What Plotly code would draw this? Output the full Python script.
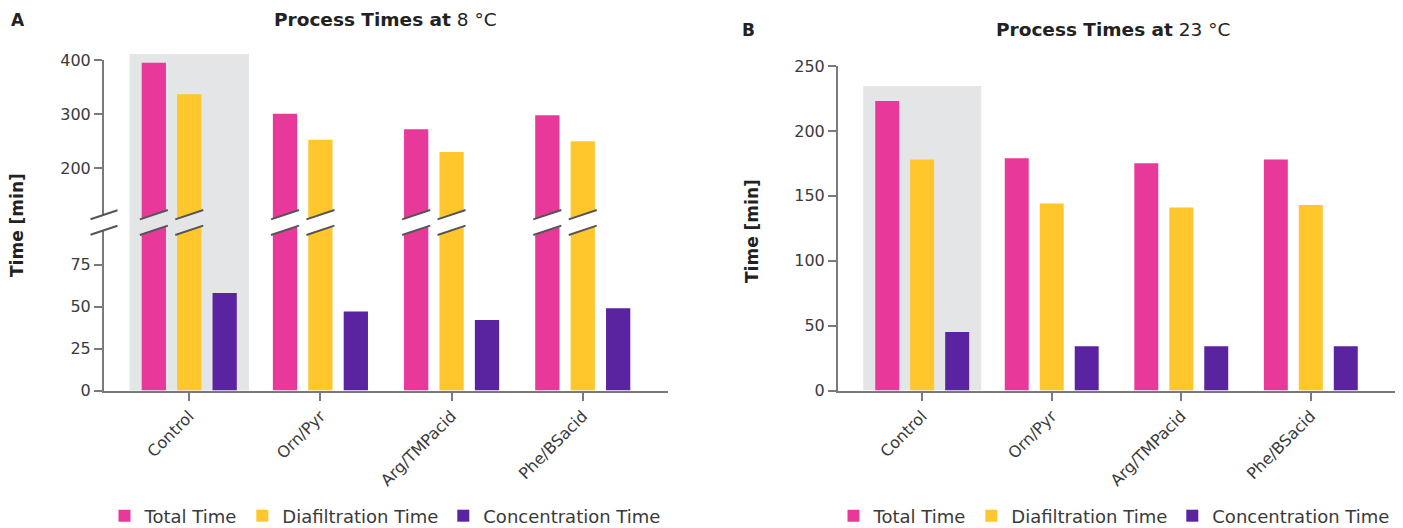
import plotly.graph_objects as go

# ---------------- data ----------------
categories = ["Control", "Orn/Pyr", "Arg/TMPacid", "Phe/BSacid"]
series_names = ["Total Time", "Diafiltration Time", "Concentration Time"]
total_8 = [395, 301, 272, 298]
dia_8 = [337, 253, 230, 250]
conc_8 = [58, 47, 42, 49]
total_23 = [223, 179, 175, 178]
dia_23 = [178, 144, 141, 143]
conc_23 = [45, 34, 34, 34]
highlight = "Control"
break_value = 100
lower_ticks_8 = [0, 25, 50, 75]
upper_ticks_8 = [200, 300, 400]
ticks_23 = [0, 50, 100, 150, 200, 250]

colors = ["#E8399A", "#FFC72C", "#5A23A0"]
gray = "#E4E5E7"
axis_col = "#7A7A7A"
text_col = "#3A3A3A"
FONT = "DejaVu Sans"

W, H = 1403, 528


def px(xp):
    return xp / W


def py(yp):
    return 1 - yp / H


# layout geometry (pixels)
A_left, A_right = 104, 668
B_left, B_right = 838, 1395
plot_bottom = 390.5
A_top = 60
A_break = 222.5
B_top = 66
xrange_ = [-0.65, 3.65]
bar_w = 0.185
bar_step = 0.27

fig = go.Figure()

idx = list(range(len(categories)))
data8 = [total_8, dia_8, conc_8]
data23 = [total_23, dia_23, conc_23]

for j, (name, vals) in enumerate(zip(series_names, data8)):
    off = (j - 1) * bar_step - bar_w / 2
    for yax, show in (("y", True), ("y2", False)):
        fig.add_trace(go.Bar(
            x=idx, y=vals, name=name, marker_color=colors[j], marker_line_width=0,
            width=bar_w, offset=off, xaxis="x", yaxis=yax, showlegend=show,
            legend="legend", hoverinfo="y+name"))

for j, (name, vals) in enumerate(zip(series_names, data23)):
    off = (j - 1) * bar_step - bar_w / 2
    fig.add_trace(go.Bar(
        x=idx, y=vals, name=name, marker_color=colors[j], marker_line_width=0,
        width=bar_w, offset=off, xaxis="x2", yaxis="y3", showlegend=True,
        legend="legend2", hoverinfo="y+name"))

hi = categories.index(highlight)
spacing_A = (A_right - A_left) / (xrange_[1] - xrange_[0])


def xA_paper(xd):
    return px(A_left + (xd - xrange_[0]) * spacing_A)


shapes = []
# highlight background rectangles
shapes.append(dict(type="rect", xref="paper", yref="paper",
                   x0=xA_paper(hi - 0.455), x1=xA_paper(hi + 0.455),
                   y0=py(plot_bottom), y1=py(54), fillcolor=gray, line_width=0, layer="below"))
shapes.append(dict(type="rect", xref="x2", yref="y3", x0=hi - 0.455, x1=hi + 0.455,
                   y0=0, y1=234.5, fillcolor=gray, line_width=0, layer="below"))

# axis break marks (panel A)
gap = 7.8
slope = 1 / 3
line_col = "#555555"


def slash_pair(xc_data, half_px, fill):
    hw = half_px / spacing_A
    s = half_px * slope
    yu_l, yu_r = A_break - gap + s, A_break - gap - s
    yl_l, yl_r = A_break + gap + s, A_break + gap - s
    x0, x1 = xA_paper(xc_data - hw), xA_paper(xc_data + hw)
    path = (f"M{x0},{py(yu_l)} L{x1},{py(yu_r)} L{x1},{py(yl_r)} L{x0},{py(yl_l)} Z")
    out = [dict(type="path", xref="paper", yref="paper", path=path, fillcolor=fill,
                line_width=0, layer="above")]
    for (ya, yb) in ((yu_l, yu_r), (yl_l, yl_r)):
        out.append(dict(type="line", xref="paper", yref="paper", x0=x0, x1=x1,
                        y0=py(ya), y1=py(yb), line=dict(color=line_col, width=2),
                        layer="above"))
    return out


for j, vals in enumerate(data8):
    off = (j - 1) * bar_step
    for i, v in enumerate(vals):
        if v > break_value:
            fill = gray if i == hi else "white"
            shapes += slash_pair(i + off, 14, fill)

# axis break on the y axis line
shapes += slash_pair(xrange_[0], 13.5, "white")

title_font = dict(size=18.5, color="#222")
annotations = [
    dict(text="<b>A</b>", x=px(9), y=py(20), xref="paper", yref="paper",
         xanchor="left", yanchor="middle", showarrow=False, font=dict(size=17, color="#222")),
    dict(text="<b>B</b>", x=px(740), y=py(30), xref="paper", yref="paper",
         xanchor="left", yanchor="middle", showarrow=False, font=dict(size=17, color="#222")),
    dict(text="<b>Process Times at</b> 8 °C", x=px(385), y=py(20), xref="paper", yref="paper",
         xanchor="center", yanchor="middle", showarrow=False, font=title_font),
    dict(text="<b>Process Times at</b> 23 °C", x=px(1113), y=py(30), xref="paper", yref="paper",
         xanchor="center", yanchor="middle", showarrow=False, font=title_font),
    dict(text="<b>Time [min]</b>", x=px(17), y=py(225), xref="paper", yref="paper",
         textangle=-90, xanchor="center", yanchor="middle", showarrow=False,
         font=dict(size=17, color="#222")),
    dict(text="<b>Time [min]</b>", x=px(752), y=py(231), xref="paper", yref="paper",
         textangle=-90, xanchor="center", yanchor="middle", showarrow=False,
         font=dict(size=17, color="#222")),
]

axis_common = dict(showline=True, linecolor=axis_col, linewidth=2, ticks="outside",
                   ticklen=8, tickwidth=1.5, tickcolor=axis_col, showgrid=False,
                   zeroline=False, tickfont=dict(size=16, color=text_col), fixedrange=True,
                   automargin=False)

fig.update_layout(
    width=W, height=H, autosize=False,
    margin=dict(l=0, r=0, t=0, b=0, autoexpand=False),
    paper_bgcolor="white", plot_bgcolor="white",
    font=dict(family=FONT, color=text_col),
    barmode="overlay",
    xaxis=dict(domain=[px(A_left), px(A_right)], range=xrange_, anchor="y",
               tickvals=idx, ticktext=categories, tickangle=-45, **axis_common),
    yaxis=dict(domain=[py(plot_bottom), py(A_break)], range=[0, break_value], anchor="x",
               tickvals=lower_ticks_8, **axis_common),
    yaxis2=dict(domain=[py(A_break), py(A_top)], range=[break_value, 400], anchor="x",
                tickvals=upper_ticks_8, **axis_common),
    xaxis2=dict(domain=[px(B_left), px(B_right)], range=xrange_, anchor="y3",
                tickvals=idx, ticktext=categories, tickangle=-45, **axis_common),
    yaxis3=dict(domain=[py(plot_bottom), py(B_top)], range=[0, 250], anchor="x2",
                tickvals=ticks_23, **axis_common),
    legend=dict(orientation="h", x=px(385), y=py(516), xanchor="center", yanchor="middle",
                font=dict(size=18, color=text_col), bgcolor="rgba(0,0,0,0)",
                traceorder="normal"),
    legend2=dict(orientation="h", x=px(1114), y=py(516), xanchor="center", yanchor="middle",
                 font=dict(size=18, color=text_col), bgcolor="rgba(0,0,0,0)",
                 traceorder="normal"),
    shapes=shapes,
    annotations=annotations,
    showlegend=True,
)

fig.write_html("out.html")
